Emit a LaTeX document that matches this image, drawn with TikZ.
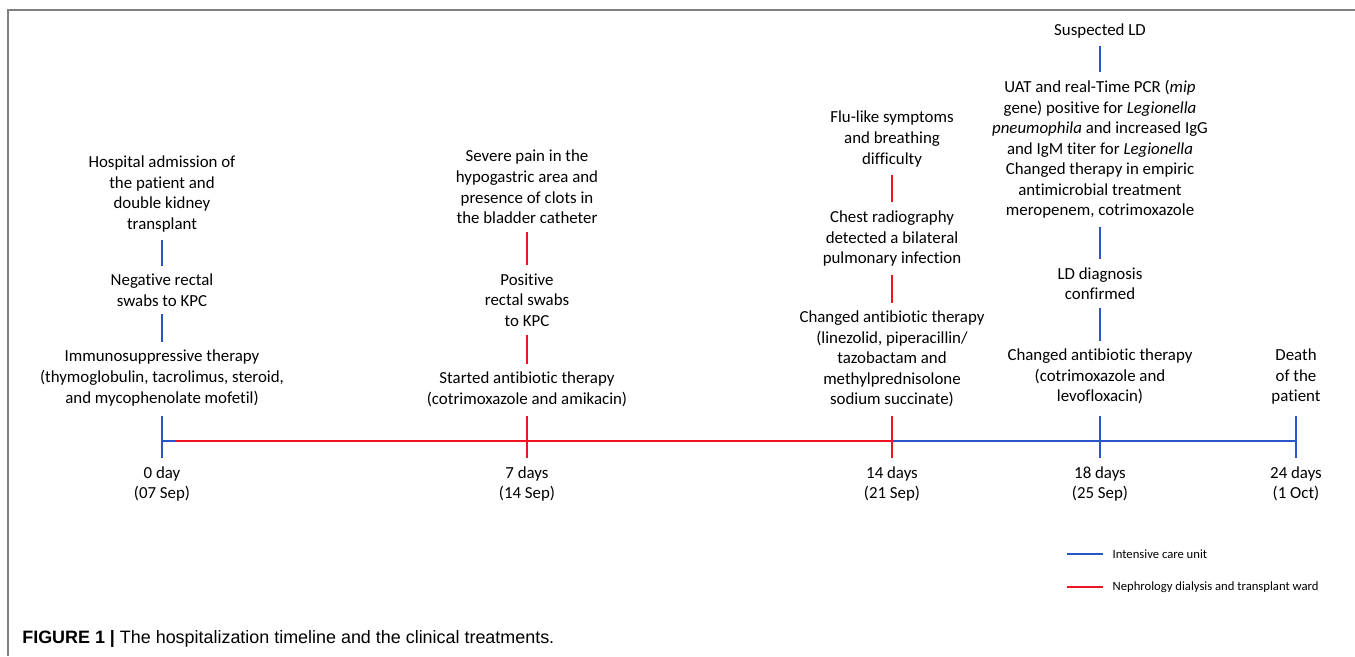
\documentclass[tikz,border=0pt]{standalone}
\usepackage{fontspec}
\setmainfont[Ligatures=NoCommon]{Carlito}
\newfontfamily\capfont{Liberation Sans}
\definecolor{icublue}{RGB}{40,85,200}
\definecolor{wardred}{RGB}{240,20,30}
\begin{document}
\begin{tikzpicture}[x=0.02cm, y=-0.02cm,
event/.style={align=center, inner sep=0pt, font=\fontsize{9.6}{11.7}\selectfont},
icu/.style={draw=icublue, line width=1.2pt},
ward/.style={draw=wardred, line width=1.2pt},
link/.style={shorten <=4.5pt, shorten >=4.5pt},
legendtext/.style={anchor=west, inner sep=0pt, font=\fontsize{7.2}{9}\selectfont}]
\useasboundingbox (0,0) rectangle (1355,656);
\draw[gray, line width=1.2pt] (1355,10) -- (8,10) -- (8,656);
% events at day 0
\node[event] (adm) at (162,194) {Hospital admission of\\the patient and\\double kidney\\transplant};
\node[event] (neg) at (162,290) {Negative rectal\\swabs to KPC};
\node[event] (imm) at (162,378) {Immunosuppressive therapy\\(thymoglobulin, tacrolimus, steroid,\\and mycophenolate mofetil)};
\draw[icu, link] (adm) -- (neg);
\draw[icu, link] (neg) -- (imm);
% events at day 7
\node[event] (pain) at (527,187) {Severe pain in the\\hypogastric area and\\presence of clots in\\the bladder catheter};
\node[event] (pos) at (527,300) {Positive\\rectal swabs\\to KPC};
\node[event] (amik) at (527,389.5) {Started antibiotic therapy\\(cotrimoxazole and amikacin)};
\draw[ward, link] (pain) -- (pos);
\draw[ward, link] (pos) -- (amik);
% events at day 14
\node[event] (flu) at (892,139) {Flu-like symptoms\\and breathing\\difficulty};
\node[event] (chest) at (892,238.5) {Chest radiography\\detected a bilateral\\pulmonary infection};
\node[event] (line) at (892,359) {Changed antibiotic therapy\\(linezolid, piperacillin/\\tazobactam and\\methylprednisolone\\sodium succinate)};
\draw[ward, link] (flu) -- (chest);
\draw[ward, link] (chest) -- (line);
% events at day 18
\node[event] (susp) at (1100,31) {Suspected LD};
\node[event] (pcr) at (1100,149.5) {UAT and real-Time PCR (\textit{mip}\\gene) positive for \textit{Legionella}\\\textit{pneumophila} and increased IgG\\and IgM titer for \textit{Legionella}\\Changed therapy in empiric\\antimicrobial treatment\\meropenem, cotrimoxazole};
\node[event] (conf) at (1100,283.5) {LD diagnosis\\confirmed};
\node[event] (levo) at (1100,376.5) {Changed antibiotic therapy\\(cotrimoxazole and\\levofloxacin)};
\draw[icu, link] (susp) -- (pcr);
\draw[icu, link] (pcr) -- (conf);
\draw[icu, link] (conf) -- (levo);
% day 24
\node[event] (death) at (1296,376.5) {Death\\of the\\patient};
% time axis
\coordinate (t0) at (162,441);
\coordinate (tw) at (176,441);
\coordinate (t14) at (892,441);
\coordinate (t24) at (1296,441);
\draw[icu] (t0) -- (tw);
\draw[ward] (tw) -- (t14);
\draw[icu] (t14) -- (t24);
\foreach \x/\c in {162/icu,527/ward,892/ward,1100/icu,1296/icu}
  \draw[\c] (\x,416) -- (\x,458);
\node[event] (d0) at (162,484) {0 day\\(07 Sep)};
\node[event] (d7) at (527,484) {7 days\\(14 Sep)};
\node[event] (d14) at (892,484) {14 days\\(21 Sep)};
\node[event] (d18) at (1100,484) {18 days\\(25 Sep)};
\node[event] (d24) at (1296,484) {24 days\\(1 Oct)};
% legend
\coordinate (lg1) at (1067,554);
\coordinate (lg2) at (1067,587);
\draw[icu, line width=1pt] (lg1) -- ++(36,0) node[legendtext, xshift=5] (icutext) {Intensive care unit};
\draw[ward, line width=1pt] (lg2) -- ++(36,0) node[legendtext, xshift=5] (wardtext) {Nephrology dialysis and transplant ward};
% caption
\node[anchor=west, inner sep=0pt, font=\capfont\fontsize{10.2}{12}\selectfont] (cap) at (22,639) {\textbf{FIGURE 1 |} The hospitalization timeline and the clinical treatments.};
\end{tikzpicture}
\end{document}
